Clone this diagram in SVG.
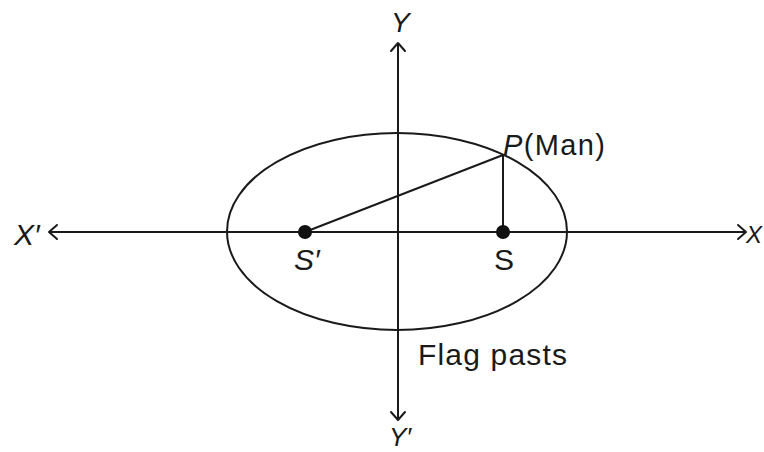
<svg xmlns="http://www.w3.org/2000/svg" width="764" height="452" viewBox="0 0 764 452">
<style>
.ln{fill:none;stroke:#1a1a1a;stroke-width:2}
.ah{fill:none;stroke:#1a1a1a;stroke-width:2;stroke-linecap:round;stroke-linejoin:round}
.t{font-family:"Liberation Sans",Arial,sans-serif;fill:#1a1a1a}
.i{font-style:italic}
</style>
<rect width="764" height="452" fill="#ffffff"/>
<g id="connectors">
<line class="ln" x1="49" y1="232" x2="746" y2="232"/>
<polyline class="ah" points="57,225 49,232 57,239"/>
<polyline class="ah" points="738,225 746,232 738,239"/>
<line class="ln" x1="398" y1="43" x2="398" y2="420"/>
<polyline class="ah" points="391,51 398,43 405,51"/>
<polyline class="ah" points="391,412 398,420 405,412"/>
<line class="ln" x1="305" y1="232" x2="503" y2="155"/>
<line class="ln" x1="503" y1="155" x2="503" y2="232"/>
</g>
<g id="ellipse">
<ellipse class="ln" cx="397" cy="231.5" rx="170" ry="98.5"/>
</g>
<g id="focus-s1">
<circle cx="305" cy="232" r="7" fill="#111"/>
<text class="t i" x="294" y="270" font-size="30">S′</text>
</g>
<g id="focus-s">
<circle cx="503" cy="232" r="7" fill="#111"/>
<text class="t" x="494" y="270" font-size="30">S</text>
</g>
<g id="point-p">
<text class="t" x="503" y="155" font-size="29" textLength="102"><tspan class="i">P</tspan>(Man)</text>
</g>
<g id="labels">
<text class="t i" x="391" y="32" font-size="28">Y</text>
<text class="t i" x="14" y="245" font-size="30">X′</text>
<text class="t i" x="746" y="243" font-size="24">X</text>
<text class="t i" x="389" y="446" font-size="26">Y′</text>
<text class="t" x="418" y="365" font-size="30" textLength="149">Flag pasts</text>
</g>
</svg>
